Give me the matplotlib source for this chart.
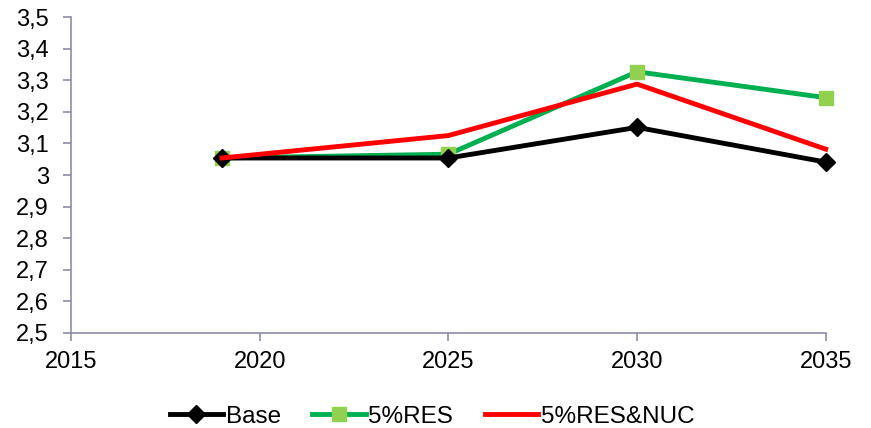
import matplotlib.pyplot as plt
from matplotlib.ticker import FuncFormatter

years = [2019, 2025, 2030, 2035]
base = [3.054, 3.054, 3.151, 3.041]
res = [3.054, 3.066, 3.327, 3.245]
res_nuc = [3.054, 3.125, 3.288, 3.082]

plt.rcParams['font.family'] = ['Liberation Sans', 'DejaVu Sans']

fig = plt.figure(figsize=(8.71, 4.28), dpi=100)
ax = fig.add_axes([0.0815, 0.222, 0.8665, 0.738])

ax.plot(years, base, color='black', lw=3.5, marker='D', ms=9, label='Base',
        zorder=3, clip_on=False)
ax.plot(years, res, color='#00B050', lw=3.5, marker='s', ms=10.5,
        mfc='#92D050', mec='#92D050', label='5%RES', zorder=2, clip_on=False)
ax.plot(years, res_nuc, color='#FF0000', lw=3.5, label='5%RES&NUC',
        zorder=4, clip_on=False)

ax.set_xlim(2015, 2035)
ax.set_ylim(2.5, 3.5)
ax.set_xticks([2015, 2020, 2025, 2030, 2035])
ax.set_yticks([2.5 + 0.1 * i for i in range(11)])
ax.yaxis.set_major_formatter(FuncFormatter(lambda v, p: ('%g' % round(v, 1)).replace('.', ',')))

axis_col = '#8C8CA8'
for s in ['top', 'right']:
    ax.spines[s].set_visible(False)
for s in ['left', 'bottom']:
    ax.spines[s].set_color(axis_col)
    ax.spines[s].set_linewidth(1.2)
ax.tick_params(colors=axis_col, labelcolor='black', labelsize=17, length=6, width=1.2)
ax.tick_params(axis='x', pad=7)
ax.tick_params(axis='y', pad=10)

fig.legend(*ax.get_legend_handles_labels(), loc='center', bbox_to_anchor=(0.496, 0.026),
           ncol=3, frameon=False, fontsize=17.5, handlelength=2.2,
           columnspacing=1.3, handletextpad=0.1, borderaxespad=0)

fig.savefig('out.png', dpi=100)
